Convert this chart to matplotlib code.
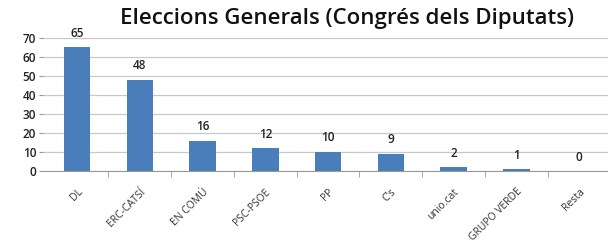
import matplotlib
matplotlib.use("Agg")
import matplotlib.pyplot as plt
import matplotlib.transforms as mtransforms
import numpy as np

parties = ["DL", "ERC-CATSÍ", "EN COMÚ", "PSC-PSOE", "PP", "C's", "unio.cat", "GRUPO VERDE", "Resta"]
seats = [65, 48, 16, 12, 10, 9, 2, 1, 0]
y_ticks = [0, 10, 20, 30, 40, 50, 60, 70]

plt.rcParams['font.family'] = ['Open Sans', 'DejaVu Sans']

fig = plt.figure(figsize=(6.08, 2.48), dpi=100)
ax = fig.add_axes([0.071, 0.31, 0.929, 0.537])

x = np.arange(len(parties))
bars = ax.bar(x, seats, width=0.42, color="#4a7ebb", zorder=3)

for xi, v in zip(x, seats):
    ax.text(xi, v + 4, str(v), ha="center", va="bottom", fontsize=8.5,
            fontweight="semibold", color="#222222")

ax.set_ylim(0, 70)
ax.set_xlim(-0.54, len(parties) - 0.54)
ax.set_yticks(y_ticks)
ax.set_yticklabels([str(t) for t in y_ticks], fontsize=8.5, fontweight="semibold", color="#222222")
ax.yaxis.grid(True, color="#c8c8c8", linewidth=0.9, zorder=0)

ax.set_xticks(x)
ax.set_xticklabels(parties, rotation=45, ha="right", rotation_mode="anchor",
                   fontsize=7.5, color="#333333")
shift = mtransforms.ScaledTranslation(-4 / 100, 0, fig.dpi_scale_trans)
for lbl in ax.get_xticklabels():
    lbl.set_transform(lbl.get_transform() + shift)
ax.set_xticks(x[:-1] + 0.5, minor=True)
ax.tick_params(axis="x", which="major", length=0, pad=11)
ax.tick_params(axis="x", which="minor", length=4, color="#999999")
ax.tick_params(axis="y", length=3, color="#999999", pad=2)

for s in ["top", "right", "left"]:
    ax.spines[s].set_visible(False)
ax.spines["bottom"].set_color("#999999")

fig.text(0.57, 0.925, "Eleccions Generals (Congrés dels Diputats)", ha="center", va="center",
         fontsize=16, fontweight="semibold", color="#111111")

fig.savefig("out.png", dpi=100)
